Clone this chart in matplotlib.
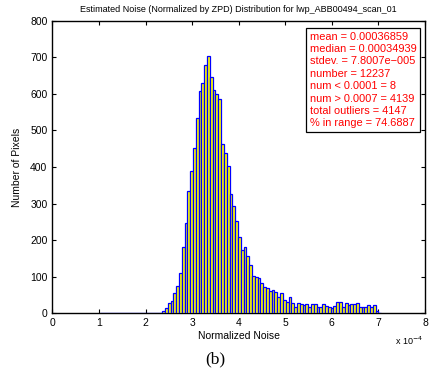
import numpy as np
import matplotlib
matplotlib.use("Agg")
import matplotlib.pyplot as plt

plt.rcParams['font.family'] = ['Liberation Sans', 'DejaVu Sans']

# histogram range (normalized noise, units of 1e-4) and bin counts
range_lo = 1.03
range_hi = 7.06
counts = [1, 0, 0, 0, 0, 0, 0, 0, 0, 0,
          0, 0, 0, 0, 0, 0, 0, 0, 0, 0,
          1, 2, 5, 15, 27, 34, 55, 75, 109, 182,
          248, 334, 390, 451, 533, 607, 630, 678, 704, 645,
          610, 599, 587, 464, 437, 404, 326, 294, 251, 208,
          173, 180, 157, 131, 102, 100, 96, 82, 71, 68,
          60, 63, 58, 45, 55, 36, 32, 44, 27, 16,
          27, 25, 23, 25, 18, 25, 25, 16, 17, 25,
          20, 18, 14, 21, 32, 32, 16, 27, 23, 25,
          25, 29, 16, 16, 16, 23, 16, 23, 6, 1]

stats_lines = ["mean = 0.00036859",
               "median = 0.00034939",
               "stdev. = 7.8007e\u2212005",
               "number = 12237",
               "num < 0.0001 = 8",
               "num > 0.0007 = 4139",
               "total outliers = 4147",
               "% in range = 74.6887"]

title = "Estimated Noise (Normalized by ZPD) Distribution for lwp_ABB00494_scan_01"


def main():
    edges = np.linspace(range_lo, range_hi, len(counts) + 1)
    centers = 0.5 * (edges[:-1] + edges[1:])
    width = edges[1] - edges[0]

    fig = plt.figure(figsize=(4.29, 3.74), dpi=100)
    ax = fig.add_axes([0.122, 0.1623, 0.8687, 0.7824])

    ax.bar(centers, counts, width=width, color="#ffff00", edgecolor="#0000ff",
           linewidth=0.9, align="center", zorder=3)

    ax.set_xlim(0, 8)
    ax.set_ylim(0, 800)
    ax.set_xticks(np.arange(0, 9, 1))
    ax.set_yticks(np.arange(0, 900, 100))
    ax.tick_params(direction="in", top=True, right=True, labelsize=7.5, length=3, width=0.8)
    for s in ax.spines.values():
        s.set_linewidth(1.0)

    ax.set_title(title, fontsize=6.5, pad=6)
    ax.set_xlabel("Normalized Noise", fontsize=7.5, labelpad=2)
    ax.set_ylabel("Number of Pixels", fontsize=7.5, labelpad=6)

    ax.text(0.994, -0.095, "x 10$^{-4}$", transform=ax.transAxes, fontsize=6.5,
            ha="right", va="center")

    ax.text(0.691, 0.963, "\n".join(stats_lines), transform=ax.transAxes,
            fontsize=7.9, color="red", ha="left", va="top", linespacing=1.3,
            multialignment="left", zorder=5,
            bbox=dict(facecolor="white", edgecolor="black", linewidth=0.9, pad=2.8))

    fig.text(0.502, 0.038, "(b)", fontsize=12.5, family="Liberation Serif",
             ha="center", va="center")

    fig.savefig("out.png", dpi=100)
    plt.close(fig)


if __name__ == '__main__':
    main()
